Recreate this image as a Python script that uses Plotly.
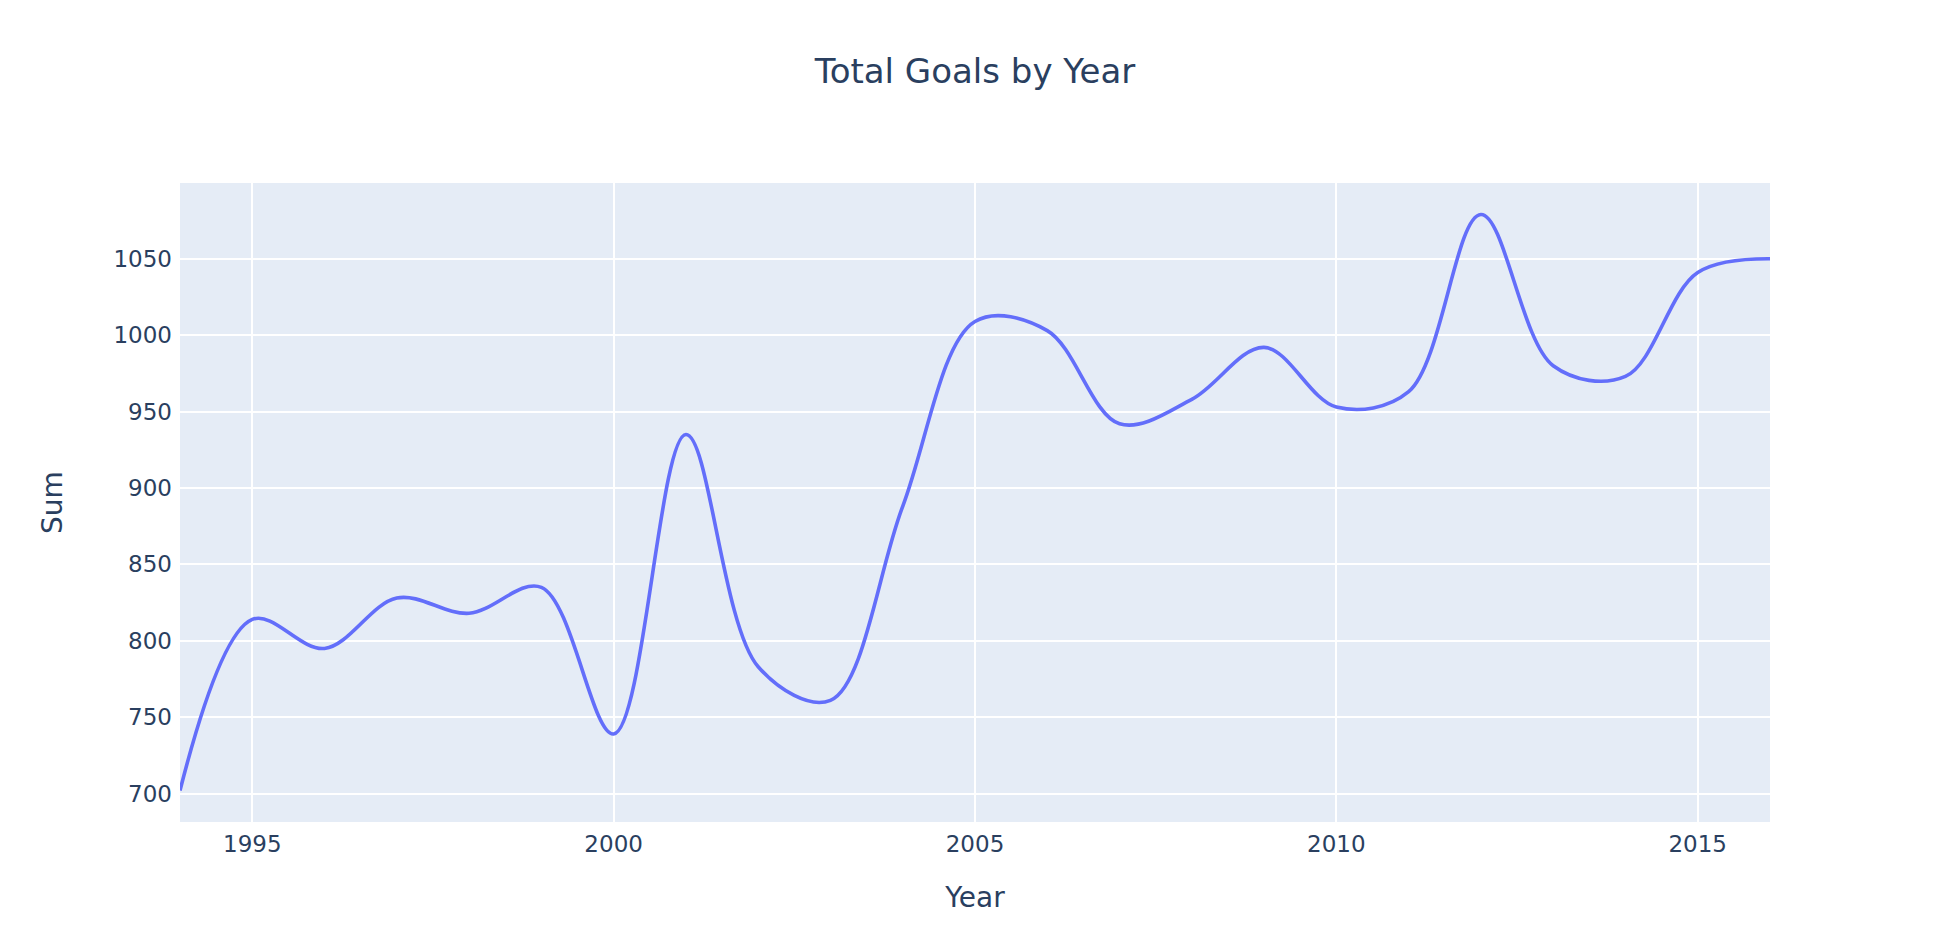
import plotly.graph_objects as go

years = list(range(1994, 2017))
goals = [702, 814, 795, 828, 818, 835, 739, 935, 783, 761, 888, 1009,
         1003, 942, 958, 992, 953, 963, 1079, 980, 973, 1041, 1050]

fig = go.Figure()
fig.add_trace(go.Scatter(
    x=years, y=goals, mode="lines",
    line=dict(shape="spline", color="#636efa", width=3.6),
    name="Sum",
))

fig.update_layout(
    template="plotly",
    width=1941, height=928,
    font=dict(family="Verdana, DejaVu Sans, sans-serif", size=23, color="#2a3f5f"),
    title=dict(text="Total Goals by Year", x=0.5, xref="paper", xanchor="center",
               y=1 - 62.6 / 928, yanchor="middle", font=dict(size=34)),
    margin=dict(l=172, r=179, t=175, b=114),
    showlegend=False,
    plot_bgcolor="#E5ECF6",
)
fig.update_xaxes(title=dict(text="Year", font=dict(size=28), standoff=31), range=[1994, 2016],
                 gridcolor="white", gridwidth=2, dtick=5, tick0=1995,
                 tickfont=dict(size=23), zeroline=False, ticklabelstandoff=6)
fig.update_yaxes(title=dict(text="Sum", font=dict(size=28), standoff=42), range=[681.4, 1099.6],
                 gridcolor="white", gridwidth=2, dtick=50,
                 tickfont=dict(size=23), zeroline=False, ticklabelstandoff=7)

fig.write_html("out.html")
